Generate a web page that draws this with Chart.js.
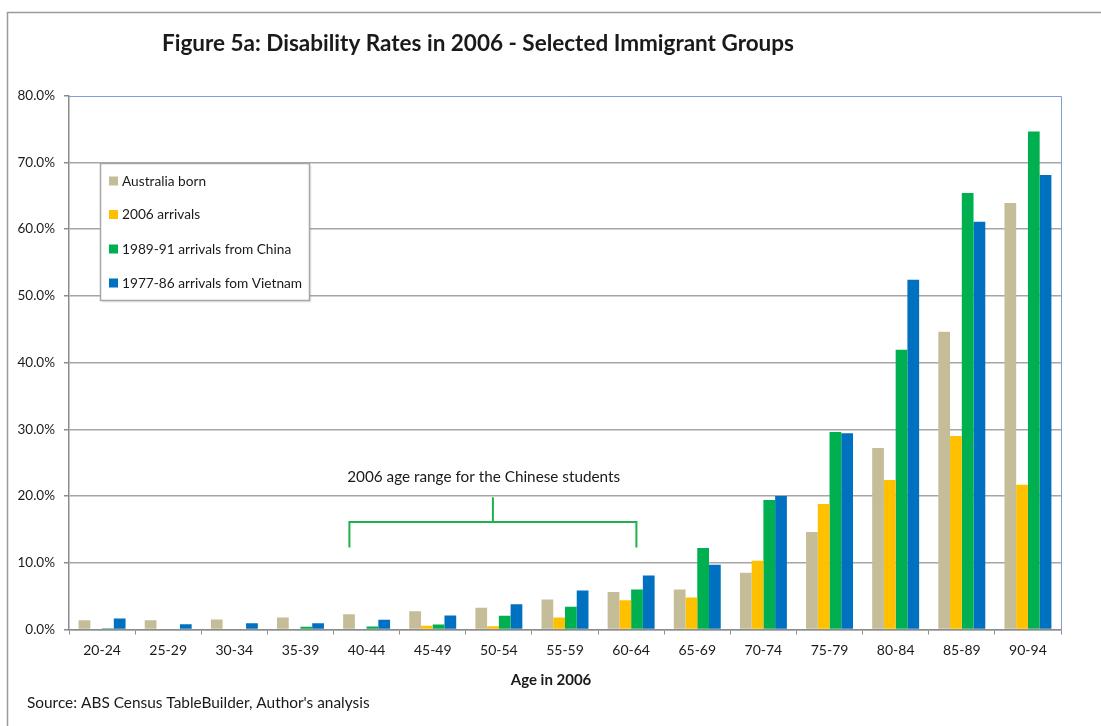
<!DOCTYPE html>
<html>
<head>
<meta charset="utf-8">
<script src="https://cdn.jsdelivr.net/npm/chart.js@4.4.1/dist/chart.umd.min.js"></script>
<style>
  html, body { margin: 0; padding: 0; background: #ffffff; }
  #wrap { width: 1101px; height: 726px; position: relative; }
</style>
</head>
<body>
<div id="wrap"><canvas id="c" width="1101" height="726"></canvas></div>
<script>
// ---- Data ----
const categories = ['20-24','25-29','30-34','35-39','40-44','45-49','50-54','55-59','60-64','65-69','70-74','75-79','80-84','85-89','90-94'];
const seriesNames = ['Australia born','2006 arrivals','1989-91 arrivals from China','1977-86 arrivals fom Vietnam'];
const australiaBorn = [1.4, 1.4, 1.5, 1.8, 2.3, 2.75, 3.25, 4.5, 5.6, 6.0, 8.5, 14.6, 27.2, 44.6, 63.9];
const arrivals2006  = [0, 0, 0, 0, 0.1, 0.55, 0.5, 1.8, 4.4, 4.8, 10.3, 18.8, 22.4, 29.0, 21.7];
const chinaArrivals = [0.2, 0, 0, 0.4, 0.45, 0.75, 2.05, 3.4, 6.0, 12.2, 19.4, 29.6, 41.9, 65.4, 74.6];
const vietnamArrivals = [1.65, 0.8, 0.95, 0.95, 1.45, 2.1, 3.8, 5.85, 8.1, 9.7, 20.0, 29.4, 52.4, 61.1, 68.1];
const yTicks = [0, 10, 20, 30, 40, 50, 60, 70, 80];
const titleText = 'Figure 5a: Disability Rates in 2006 - Selected Immigrant Groups';
const xAxisTitle = 'Age in 2006';
const sourceText = "Source: ABS Census TableBuilder, Author's analysis";
const annotationText = '2006 age range for the Chinese students';
// bracket spans (fractional category index) and heights (percent)
const bracketFrom = 3.74, bracketTo = 8.08, bracketCenter = 5.91, annotationX = 5.77;
const bracketLow = 12.3, bracketMid = 16.1, bracketHigh = 19.8, annotationY = 22.8;

const colors = ['#c4bd97', '#ffc000', '#00b050', '#0070c0'];
const FONT = 'Lato, "Open Sans", sans-serif';
const TEXT = '#1a1a1a';

const decorations = {
  id: 'decorations',
  beforeDraw(chart) {
    const ctx = chart.ctx;
    ctx.save();
    ctx.fillStyle = '#ffffff';
    ctx.fillRect(0, 0, chart.width, chart.height);
    // figure frame
    ctx.strokeStyle = '#9a9a9a';
    ctx.lineWidth = 1.5;
    ctx.beginPath();
    ctx.moveTo(1101, 12.5);
    ctx.lineTo(7.5, 12.5);
    ctx.lineTo(7.5, 726);
    ctx.stroke();
    // title
    ctx.fillStyle = TEXT;
    ctx.font = 'bold 22.5px ' + FONT;
    ctx.textAlign = 'center';
    ctx.textBaseline = 'middle';
    ctx.fillText(titleText, 478, 44);
    // axis title
    ctx.font = 'bold 15px ' + FONT;
    ctx.fillText(xAxisTitle, 551, 680);
    // source
    ctx.font = '15.4px ' + FONT;
    ctx.textAlign = 'left';
    ctx.fillText(sourceText, 27, 703);
    ctx.restore();
  },
  afterDatasetsDraw(chart) {
    const ctx = chart.ctx;
    const a = chart.chartArea;
    const xs = chart.scales.x, ys = chart.scales.y;
    ctx.save();
    // plot frame top/right (blue)
    ctx.strokeStyle = '#7f9fd8';
    ctx.lineWidth = 1;
    ctx.beginPath();
    ctx.moveTo(a.left, Math.round(a.top) + 0.5);
    ctx.lineTo(Math.round(a.right) + 0.5, Math.round(a.top) + 0.5);
    ctx.lineTo(Math.round(a.right) + 0.5, a.bottom);
    ctx.stroke();

    // legend box
    const lx = 100.5, ly = 163.5, lw = 209, lh = 137;
    ctx.fillStyle = 'rgba(0,0,0,0.08)';
    ctx.fillRect(lx + 2, ly + 2, lw, lh);
    ctx.fillStyle = '#ffffff';
    ctx.fillRect(lx, ly, lw, lh);
    ctx.strokeStyle = '#a6a6a6';
    ctx.lineWidth = 1.5;
    ctx.strokeRect(lx, ly, lw, lh);
    const itemY = [181, 214.5, 249, 283];
    ctx.font = '13.7px ' + FONT;
    ctx.textAlign = 'left';
    ctx.textBaseline = 'middle';
    chart.data.datasets.forEach((ds, i) => {
      ctx.fillStyle = ds.backgroundColor;
      ctx.fillRect(109, itemY[i] - 4.5, 9, 9);
      ctx.fillStyle = TEXT;
      ctx.fillText(ds.label, 122, itemY[i] + 0.5);
    });

    // bracket annotation
    const x1 = xs.getPixelForValue(bracketFrom);
    const x2 = xs.getPixelForValue(bracketTo);
    const xc = xs.getPixelForValue(bracketCenter);
    const yLow = ys.getPixelForValue(bracketLow);
    const yMid = ys.getPixelForValue(bracketMid);
    const yHigh = ys.getPixelForValue(bracketHigh);
    ctx.strokeStyle = '#21b04b';
    ctx.lineWidth = 2;
    ctx.beginPath();
    ctx.moveTo(x1, yLow);
    ctx.lineTo(x1, yMid);
    ctx.lineTo(x2, yMid);
    ctx.lineTo(x2, yLow);
    ctx.moveTo(xc, yMid);
    ctx.lineTo(xc, yHigh);
    ctx.stroke();
    ctx.fillStyle = TEXT;
    ctx.font = '15.3px ' + FONT;
    ctx.textAlign = 'center';
    ctx.fillText(annotationText, xs.getPixelForValue(annotationX), ys.getPixelForValue(annotationY));
    ctx.restore();
  }
};

const seriesData = [australiaBorn, arrivals2006, chinaArrivals, vietnamArrivals];
new Chart(document.getElementById('c'), {
  type: 'bar',
  data: {
    labels: categories,
    datasets: seriesNames.map((name, i) => ({
      label: name,
      data: seriesData[i],
      backgroundColor: colors[i],
      borderWidth: 0,
      categoryPercentage: 0.71,
      barPercentage: 1.0
    }))
  },
  options: {
    responsive: false,
    animation: false,
    devicePixelRatio: 1,
    layout: { padding: { left: 0, top: 95.5, right: 40, bottom: 0 } },
    plugins: { legend: { display: false }, title: { display: false }, tooltip: { enabled: false } },
    scales: {
      x: {
        afterFit(scale) { scale.height = 96.5; },
        grid: { display: true, drawOnChartArea: false, offset: true, color: '#8c8c8c', tickLength: 5, tickWidth: 1 },
        border: { display: true, color: '#8c8c8c', width: 1.5 },
        ticks: { color: TEXT, font: { family: FONT, size: 14 }, padding: 8, maxRotation: 0, autoSkip: false }
      },
      y: {
        min: 0, max: 80,
        afterFit(scale) { scale.width = 69; },
        afterBuildTicks(scale) { scale.ticks = yTicks.map(v => ({ value: v })); },
        grid: {
          color: (c) => c.tick && c.tick.value === 80 ? 'rgba(0,0,0,0)' : '#a6a6a6',
          lineWidth: 1.5,
          tickLength: 5,
          tickColor: '#8c8c8c'
        },
        border: { display: true, color: '#8c8c8c', width: 1.5 },
        ticks: {
          color: TEXT, font: { family: FONT, size: 13.5 }, padding: 9,
          callback: (v) => Number(v).toFixed(1) + '%'
        }
      }
    }
  },
  plugins: [decorations]
});
</script>
</body>
</html>
